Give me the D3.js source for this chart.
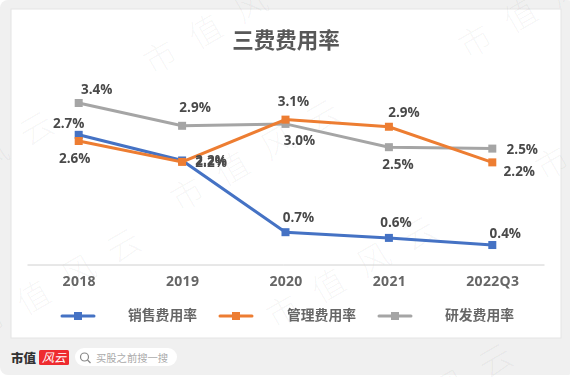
<!DOCTYPE html>
<html>
<head>
<meta charset="utf-8">
<script src="https://cdn.jsdelivr.net/npm/d3@7"></script>
<style>
html, body { margin: 0; padding: 0; background: #fff; overflow: hidden; }
text { font-family: "Open Sans", "Noto Sans CJK SC", sans-serif; }
.cjk { font-family: "Noto Sans CJK SC", sans-serif; }
</style>
</head>
<body>
<div class="chart"></div>
<script>
const WIDTH = 570;
const HEIGHT = 377;

const categories = ['2018', '2019', '2020', '2021', '2022Q3'];
const salesRate = [2.73, 2.19, 0.68, 0.56, 0.41];
const manageRate = [2.60, 2.16, 3.05, 2.90, 2.15];
const researchRate = [3.40, 2.92, 2.96, 2.47, 2.44];
const salesLabels = ['2.7%', '2.2%', '0.7%', '0.6%', '0.4%'];
const manageLabels = ['2.6%', '2.2%', '3.1%', '2.9%', '2.2%'];
const researchLabels = ['3.4%', '2.9%', '3.0%', '2.5%', '2.5%'];
const seriesNames = ['销售费用率', '管理费用率', '研发费用率'];
const yTicks = [0, 4];

// label offsets from their point, set by hand like the original
const salesOffsets = [[-10, -12], [29, 0], [13, -15], [7, -16], [13, -12]];
const manageOffsets = [[-4, 17], [29, 0], [8, -18], [15, -14], [27, 9]];
const researchOffsets = [[18, -14], [13, -19], [14, 16], [9, 17], [30, 1]];

// anchor of each watermark, rotated as one string
const watermarks = [[152, 76], [-107, 225], [179, 213], [467, 60], [-20, 342], [275, 330], [352, 457], [544, 182]];

var x = d3.scalePoint().domain(categories).range([27, 544]).padding(0.5);
var y = d3.scaleLinear().domain(d3.extent(yTicks)).range([264.5, 74.5]);

var svg = d3.select('.chart').append('svg')
    .attr('width', WIDTH)
    .attr('height', HEIGHT)
    .style('display', 'block');

var soft = svg.append('defs').append('filter').attr('id', 'soft');
soft.append('feGaussianBlur').attr('stdDeviation', 0.45);

function drawFrame() {
    svg.append('rect').attr('x', 0).attr('y', 0).attr('width', 575).attr('height', 375)
        .attr('rx', 8).attr('fill', '#f0f0f0');
    svg.append('rect').attr('x', 11).attr('y', 9).attr('width', 550).attr('height', 329)
        .attr('fill', '#fff').attr('stroke', '#e4e4e4');
}

function drawAxis(g) {
    var axis = d3.axisBottom(x).tickSize(0).tickSizeOuter(0).tickPadding(12);
    var axisG = g.append('g').attr('transform', 'translate(0,264.5)').call(axis);
    axisG.select('.domain').attr('stroke', '#d0d0d0');
    axisG.selectAll('text')
        .attr('fill', '#666')
        .style('font-size', '14px')
        .style('font-weight', 700)
        .style('font-family', '"Open Sans", sans-serif')
        .style('letter-spacing', '0.3px');
}

function drawSeries(g, values, color) {
    var line = d3.line()
        .x(function (d, i) { return x(categories[i]); })
        .y(function (d) { return y(d); });
    g.append('path')
        .attr('d', line(values))
        .attr('fill', 'none')
        .attr('stroke', color)
        .attr('stroke-width', 3);
    g.selectAll(null).data(values).enter().append('rect')
        .attr('x', function (d, i) { return x(categories[i]) - 4; })
        .attr('y', function (d) { return y(d) - 4; })
        .attr('width', 8)
        .attr('height', 8)
        .attr('fill', color);
}

function drawLabels(g, values, labels, offsets) {
    g.selectAll(null).data(values).enter().append('text')
        .attr('x', function (d, i) { return x(categories[i]) + offsets[i][0]; })
        .attr('y', function (d, i) { return y(d) + offsets[i][1]; })
        .attr('dy', '0.35em')
        .attr('text-anchor', 'middle')
        .attr('fill', '#4a4a4a')
        .style('font-size', '13.5px')
        .style('font-weight', 700)
        .text(function (d, i) { return labels[i]; });
}

function drawLegend(g, colors) {
    var lineX = [62, 220, 379];
    var textX = [128, 287, 445];
    colors.forEach(function (color, i) {
        g.append('line')
            .attr('x1', lineX[i]).attr('x2', lineX[i] + 32)
            .attr('y1', 316).attr('y2', 316)
            .attr('stroke', color).attr('stroke-width', 3)
            .attr('stroke-linecap', 'round');
        g.append('rect')
            .attr('x', lineX[i] + 12).attr('y', 312)
            .attr('width', 8).attr('height', 8)
            .attr('fill', color);
        g.append('text')
            .attr('class', 'cjk')
            .attr('x', textX[i]).attr('y', 315)
            .attr('dy', '0.36em')
            .attr('fill', '#666')
            .style('font-size', '13.8px')
            .style('font-weight', 700)
            .text(seriesNames[i]);
    });
}

function drawFooter() {
    svg.append('text').attr('x', 11).attr('y', 363)
        .attr('fill', '#333')
        .style('font-family', '"Noto Sans CJK SC", serif')
        .style('font-size', '12.5px')
        .style('font-weight', 900)
        .text('市值');
    svg.append('rect').attr('x', 39).attr('y', 350).attr('width', 30).attr('height', 15)
        .attr('rx', 1.5).attr('fill', '#ee2b2f');
    svg.append('text').attr('class', 'cjk')
        .attr('x', 54).attr('y', 362)
        .attr('text-anchor', 'middle')
        .attr('fill', '#fff')
        .style('font-size', '12px')
        .style('font-style', 'italic')
        .text('风云');
    svg.append('rect').attr('x', 75).attr('y', 348).attr('width', 102).attr('height', 18)
        .attr('rx', 9).attr('fill', '#fff');
    svg.append('circle').attr('cx', 84.5).attr('cy', 357)
        .attr('r', 4).attr('fill', 'none').attr('stroke', '#888').attr('stroke-width', 1.2);
    svg.append('line').attr('x1', 87.5).attr('y1', 360).attr('x2', 90.5).attr('y2', 363)
        .attr('stroke', '#888').attr('stroke-width', 1.2);
    svg.append('text').attr('class', 'cjk')
        .attr('x', 96).attr('y', 361.5)
        .attr('fill', '#aaa')
        .style('font-size', '10.3px')
        .text('买股之前搜一搜');
}

function drawWatermarks() {
    svg.selectAll(null).data(watermarks).enter().append('text')
        .attr('class', 'cjk')
        .attr('transform', function (d) { return 'translate(' + d[0] + ',' + d[1] + ') rotate(-30)'; })
        .attr('fill', '#000')
        .attr('fill-opacity', 0.04)
        .style('font-size', '33px')
        .style('font-weight', 300)
        .style('letter-spacing', '19px')
        .text('市值风云');
}

drawFrame();
drawWatermarks();

var plot = svg.append('g').attr('filter', 'url(#soft)');
plot.append('text').attr('class', 'cjk')
    .attr('x', 286).attr('y', 48)
    .attr('text-anchor', 'middle')
    .attr('fill', '#595959')
    .style('font-size', '21.5px')
    .style('font-weight', 700)
    .text('三费费用率');

drawAxis(plot);
drawSeries(plot.append('g'), salesRate, '#4472c4');
drawSeries(plot.append('g'), researchRate, '#a5a5a5');
drawSeries(plot.append('g'), manageRate, '#ed7d31');
drawLabels(plot.append('g'), salesRate, salesLabels, salesOffsets);
drawLabels(plot.append('g'), manageRate, manageLabels, manageOffsets);
drawLabels(plot.append('g'), researchRate, researchLabels, researchOffsets);
drawLegend(plot.append('g'), ['#4472c4', '#ed7d31', '#a5a5a5']);
drawFooter();
</script>
</body>
</html>
